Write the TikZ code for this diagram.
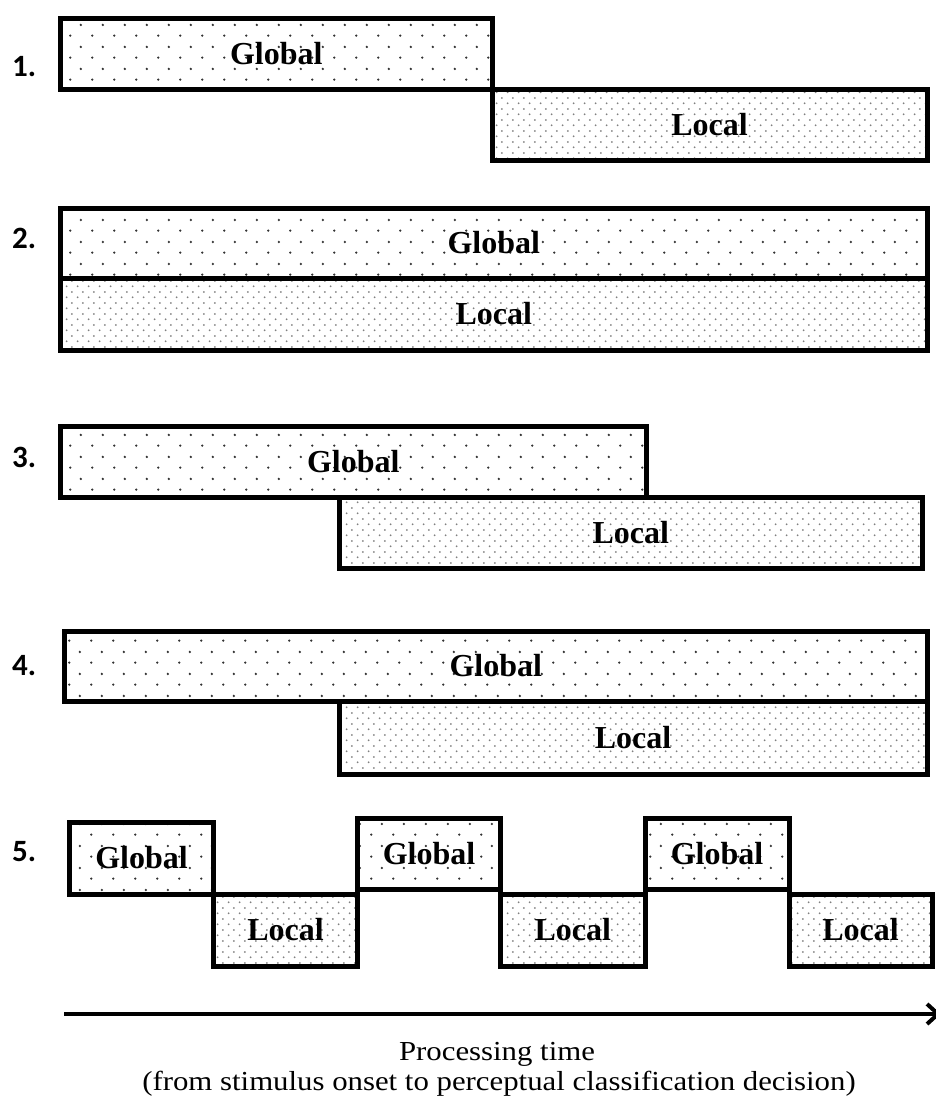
\documentclass[tikz,border=0pt]{standalone}
\usepackage{fontspec}
\setmainfont{Liberation Serif}
\newfontfamily\numfont{Carlito}
\newfontfamily\capfont[FakeStretch=1.12]{Liberation Serif}
\usetikzlibrary{arrows.meta,patterns}

% sparse staggered dots for the global phase
\pgfdeclarepatternformonly{coarsedots}{\pgfpointorigin}{\pgfqpoint{21.5pt}{21.6pt}}{\pgfqpoint{21.5pt}{21.6pt}}{%
  \pgfpathcircle{\pgfqpoint{5.4pt}{5.4pt}}{1.3pt}%
  \pgfpathcircle{\pgfqpoint{16.15pt}{16.2pt}}{1.3pt}%
  \pgfusepath{fill}}
% dense staggered dots for the local phase
\pgfdeclarepatternformonly{finedots}{\pgfpointorigin}{\pgfqpoint{10.75pt}{10.8pt}}{\pgfqpoint{10.75pt}{10.8pt}}{%
  \pgfpathcircle{\pgfqpoint{2.7pt}{2.7pt}}{1.0pt}%
  \pgfpathcircle{\pgfqpoint{8.05pt}{8.1pt}}{1.0pt}%
  \pgfusepath{fill}}

\tikzset{
  phase/.style={draw=black, line width=5pt, rectangle, inner sep=0pt, outer sep=0pt,
    font=\bfseries\fontsize{32}{32}\selectfont},
  globalbox/.style={phase, pattern=coarsedots, pattern color=black!80},
  localbox/.style={phase, pattern=finedots, pattern color=black!50},
  rowlabel/.style={anchor=base west, inner sep=0pt, font=\numfont\bfseries\fontsize{31}{31}\selectfont},
  caption/.style={anchor=base, inner sep=0pt, font=\capfont\fontsize{27.5}{30}\selectfont},
  timeaxis/.style={line width=4pt, -{Straight Barb[length=11pt,width=20pt,line width=4pt]}},
}

\begin{document}
\begin{tikzpicture}[x=1pt,y=-1pt]
\useasboundingbox (0,0) rectangle (936,1100);

% row labels
\node[rowlabel] (n1) at (12,76)  {1.};
\node[rowlabel] (n2) at (12,248) {2.};
\node[rowlabel] (n3) at (12,467) {3.};
\node[rowlabel] (n4) at (12,675) {4.};
\node[rowlabel] (n5) at (12,861) {5.};

% 1. serial: global then local
\node[globalbox, minimum width=431.5pt, minimum height=71pt] (g1) at (276.25,53.5) {Global};
\node[localbox,  minimum width=435pt,   minimum height=71pt] (l1) at (709.5,124.5) {Local};

% 2. fully parallel
\node[globalbox, minimum width=866.5pt, minimum height=70pt] (g2) at (493.75,243) {Global};
\node[localbox,  minimum width=866.5pt, minimum height=72pt] (l2) at (493.75,314) {Local};

% 3. overlapping, global ends first
\node[globalbox, minimum width=585.5pt, minimum height=71pt] (g3) at (353.25,461.5) {Global};
\node[localbox,  minimum width=582.5pt, minimum height=71pt] (l3) at (630.75,532.5) {Local};

% 4. global throughout, local starts later
\node[globalbox, minimum width=862.5pt, minimum height=70pt] (g4) at (495.75,666) {Global};
\node[localbox,  minimum width=588pt,   minimum height=73pt] (l4) at (633,737.5) {Local};

% 5. alternating
\node[globalbox, minimum width=144pt,   minimum height=72pt]   (g5a) at (141.5,858)   {Global};
\node[localbox,  minimum width=144pt,   minimum height=72pt]   (l5a) at (285.5,930)   {Local};
\node[globalbox, minimum width=143pt,   minimum height=71pt]   (g5b) at (429,853.5)   {Global};
\node[localbox,  minimum width=144.5pt, minimum height=72pt]   (l5b) at (572.75,930)  {Local};
\node[globalbox, minimum width=144pt,   minimum height=71.5pt] (g5c) at (717,853.75)  {Global};
\node[localbox,  minimum width=143pt,   minimum height=72pt]   (l5c) at (860.5,930)   {Local};

% time axis
\coordinate (t0) at (64,1014);
\coordinate (t1) at (941,1014);
\draw[timeaxis] (t0) -- (t1);

\node[caption] (c1) at (497,1060) {Processing time};
\node[caption] (c2) at (499,1090) {(from stimulus onset to perceptual classification decision)};
\end{tikzpicture}
\end{document}
